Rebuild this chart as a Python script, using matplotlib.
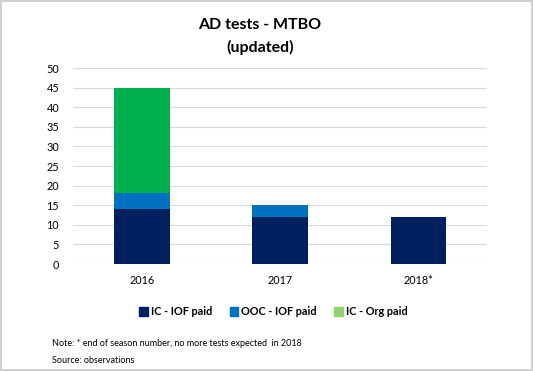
import matplotlib
matplotlib.use("Agg")
import matplotlib.pyplot as plt
from matplotlib.patches import Patch
import numpy as np

categories = ["2016", "2017", "2018*"]
ic_iof = [14, 12, 12]
ooc_iof = [4, 3, 0]
ic_org = [27, 0, 0]
series_names = ["IC - IOF paid", "OOC - IOF paid", "IC - Org paid"]
yticks = [0, 5, 10, 15, 20, 25, 30, 35, 40, 45, 50]

plt.rcParams['font.family'] = ['Lato', 'DejaVu Sans']

fig = plt.figure(figsize=(5.33, 3.71), dpi=100)
fig.patch.set_edgecolor('#d0d0d0')
fig.patch.set_linewidth(1.5)
ax = fig.add_axes([0.137, 0.2884, 0.777, 0.5283])

x = np.arange(len(categories))
c1, c2, c3 = '#002060', '#0070C0', '#00B050'
a = np.array(ic_iof); b = np.array(ooc_iof); c = np.array(ic_org)
ax.bar(x, a, width=0.4, color=c1, zorder=3)
ax.bar(x, b, width=0.4, bottom=a, color=c2, zorder=3)
ax.bar(x, c, width=0.4, bottom=a + b, color=c3, zorder=3)

ax.set_xlim(-0.5, 2.5)
ax.set_ylim(0, 50)
ax.set_yticks(yticks)
ax.set_xticks(x)
ax.set_xticklabels(categories)
ax.yaxis.grid(True, color='#d9d9d9', linewidth=0.8, zorder=0)
for s in ax.spines.values():
    s.set_visible(False)
ax.tick_params(axis='both', length=0, labelsize=7.8, colors='#000000')
ax.tick_params(axis='y', pad=10)
ax.tick_params(axis='x', pad=8)

fig.text(0.488, 0.933, "AD tests - MTBO", ha='center', va='center',
         fontsize=11.5, fontweight='bold')
fig.text(0.488, 0.873, "(updated)", ha='center', va='center',
         fontsize=11.5, fontweight='bold')

handles = [Patch(color=c1), Patch(color=c2), Patch(color='#8FD16F')]
fig.legend(handles, series_names, loc='center', bbox_to_anchor=(0.513, 0.16),
           ncol=3, frameon=False, handlelength=0.8, handleheight=0.8,
           handletextpad=0.3, columnspacing=1.6, prop={'weight': 'bold', 'size': 7.8})

fig.text(0.098, 0.075, "Note: * end of season number, no more tests expected  in 2018",
         fontsize=6.5, va='center')
fig.text(0.098, 0.027, "Source: observations", fontsize=6.5, va='center')

fig.savefig("out.png", dpi=100)
